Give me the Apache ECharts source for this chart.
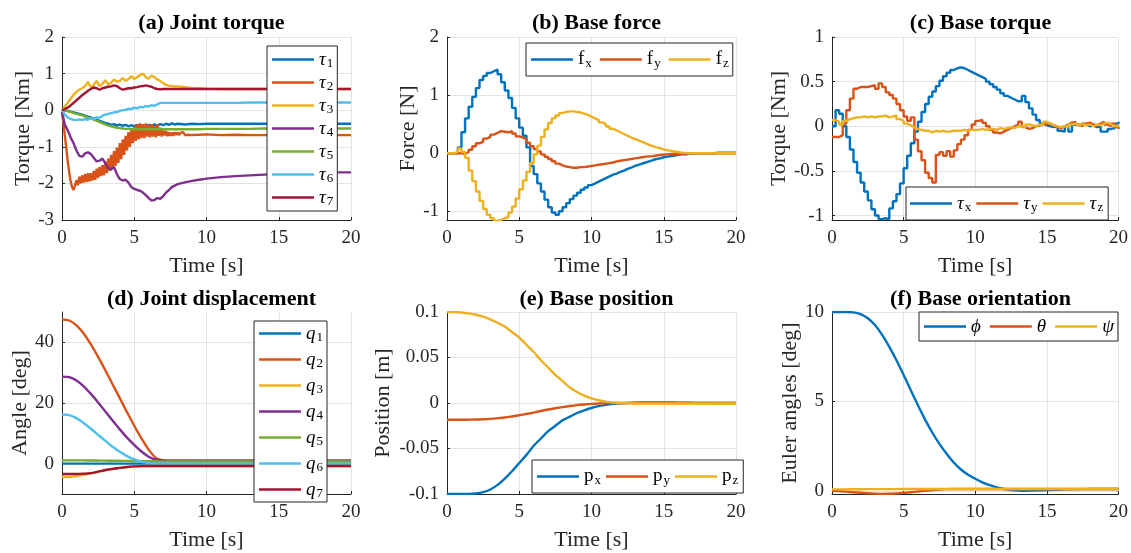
<!DOCTYPE html>
<html>
<head>
<meta charset="utf-8">
<script src="https://cdn.jsdelivr.net/npm/echarts@6/dist/echarts.min.js"></script>
<style>
  html, body { margin: 0; padding: 0; background: #fff; }
  #chart { width: 1131px; height: 553px; }
</style>
</head>
<body>
<div id="chart"></div>
<script>
// ---------- (a) Joint torque [Nm] ----------
const tA = [0,0.2,0.4,0.6,0.8,1,1.2,1.4,1.6,1.8,2,2.2,2.4,2.6,2.8,3,3.2,3.4,3.6,3.8,4,4.2,4.4,4.6,4.8,5,5.2,5.4,5.6,5.8,6,6.2,6.4,6.6,6.8,7,7.2,7.4,7.6,7.8,8,
  8.5,9,9.5,10,11,12,13,14,15,16,17,18,19,20];
const tau1 = [0,-0.01,-0.02,-0.04,-0.06,-0.08,-0.1,-0.12,-0.15,-0.18,-0.2,-0.23,-0.26,-0.29,-0.32,-0.35,-0.37,-0.4,-0.38,-0.42,-0.39,-0.43,-0.4,-0.44,-0.41,-0.44,-0.4,-0.43,-0.41,-0.44,-0.4,-0.42,-0.39,-0.42,-0.38,-0.41,-0.37,-0.4,-0.36,-0.39,-0.37,
  -0.39,-0.37,-0.38,-0.37,-0.37,-0.37,-0.37,-0.37,-0.37,-0.37,-0.37,-0.37,-0.37,-0.37];
const tau3 = [0,0.1,0.2,0.32,0.42,0.5,0.56,0.6,0.66,0.77,0.62,0.7,0.8,0.66,0.72,0.82,0.7,0.75,0.84,0.78,0.8,0.88,0.8,0.85,0.93,0.85,0.9,0.96,1.0,0.9,0.86,0.95,0.9,0.84,0.8,0.74,0.69,0.67,0.66,0.65,0.65,
  0.63,0.61,0.6,0.59,0.58,0.58,0.58,0.58,0.58,0.58,0.58,0.58,0.58,0.58];
const tau4 = [-0.05,-0.4,-0.55,-0.75,-0.9,-1.1,-1.25,-1.27,-1.18,-1.15,-1.2,-1.3,-1.4,-1.38,-1.32,-1.45,-1.58,-1.62,-1.55,-1.75,-1.88,-1.92,-1.9,-1.98,-2.1,-2.15,-2.18,-2.2,-2.25,-2.32,-2.4,-2.47,-2.45,-2.4,-2.42,-2.35,-2.25,-2.18,-2.1,-2.06,-2.02,
  -1.97,-1.93,-1.9,-1.87,-1.83,-1.8,-1.78,-1.76,-1.75,-1.74,-1.72,-1.71,-1.7,-1.7];
const tau5 = [0,-0.01,-0.03,-0.05,-0.08,-0.1,-0.12,-0.14,-0.17,-0.2,-0.23,-0.26,-0.29,-0.32,-0.36,-0.39,-0.42,-0.44,-0.46,-0.48,-0.49,-0.5,-0.51,-0.51,-0.52,
  -0.52,-0.52,-0.52,-0.52,-0.52,-0.52,-0.52,-0.52,-0.52,-0.52,-0.52,-0.52,-0.52,-0.52,-0.52,-0.52,
  -0.52,-0.52,-0.52,-0.51,-0.51,-0.51,-0.51,-0.5,-0.5,-0.5,-0.5,-0.5,-0.5,-0.5];
const tau6 = [0,-0.12,-0.2,-0.24,-0.26,-0.27,-0.25,-0.27,-0.24,-0.26,-0.22,-0.24,-0.19,-0.21,-0.15,-0.12,-0.1,-0.08,-0.06,-0.05,-0.02,0,0.01,0.04,0.03,0.07,0.05,0.09,0.08,0.11,0.1,0.14,0.12,0.16,0.2,0.2,0.2,0.2,0.2,0.2,0.2,
  0.2,0.2,0.2,0.2,0.2,0.2,0.21,0.21,0.21,0.21,0.21,0.21,0.21,0.21];
const tau7 = [0,0.03,0.07,0.13,0.2,0.27,0.34,0.41,0.47,0.53,0.58,0.62,0.6,0.56,0.6,0.62,0.64,0.65,0.68,0.66,0.6,0.56,0.58,0.6,0.6,0.62,0.63,0.65,0.66,0.68,0.66,0.64,0.6,0.58,0.57,0.58,0.58,0.58,0.58,0.58,0.58,
  0.58,0.58,0.58,0.58,0.58,0.58,0.58,0.58,0.58,0.58,0.58,0.58,0.58,0.58];
// joint 2 is sampled more finely (it is the noisiest signal)
const tA2 = [0,0.1,0.2,0.3,0.4,0.5,0.6,0.7,0.8,0.9,1,1.1,1.2,1.3,1.4,1.5,1.6,1.7,1.8,1.9,2,2.1,2.2,2.3,2.4,2.5,2.6,2.7,2.8,2.9,
  3,3.1,3.2,3.3,3.4,3.5,3.6,3.7,3.8,3.9,4,4.1,4.2,4.3,4.4,4.5,4.6,4.7,4.8,4.9,5,5.1,5.2,5.3,5.4,5.5,5.6,5.7,5.8,5.9,
  6,6.1,6.2,6.3,6.4,6.5,6.6,6.7,6.8,6.9,7,7.1,7.2,7.3,7.4,7.5,7.6,7.7,7.8,7.9,8,8.1,8.2,8.3,8.4,8.5,8.6,8.7,8.8,8.9,9,
  9.5,10,11,12,13,14,15,16,17,18,19,20];
const tau2 = [-0.05,-0.35,-0.7,-1.05,-1.4,-1.7,-1.95,-2.1,-2.18,-2.05,
  -1.92,-2.05,-1.82,-2.0,-1.78,-1.98,-1.74,-1.96,-1.72,-1.95,
  -1.72,-1.92,-1.66,-1.9,-1.6,-1.85,-1.55,-1.8,-1.5,-1.78,
  -1.4,-1.72,-1.32,-1.66,-1.22,-1.6,-1.12,-1.52,-1.02,-1.44,
  -0.9,-1.34,-0.8,-1.22,-0.7,-1.1,-0.6,-1.0,-0.52,-0.9,
  -0.44,-0.84,-0.38,-0.8,-0.36,-0.76,-0.38,-0.76,-0.36,-0.72,
  -0.4,-0.74,-0.38,-0.72,-0.42,-0.74,-0.38,-0.7,-0.48,-0.72,
  -0.55,-0.69,-0.57,-0.71,-0.6,-0.7,-0.61,-0.7,-0.6,-0.68,
  -0.6,-0.68,-0.62,-0.67,-0.6,-0.68,-0.63,-0.67,-0.62,-0.68,
  -0.64,
  -0.67,-0.66,-0.68,-0.67,-0.68,-0.68,-0.68,-0.68,-0.68,-0.68,-0.68,-0.68];

// ---------- (b) Base force [N] and (c) Base torque [Nm], held samples ----------
const tBC = [0,0.25,0.5,0.75,1,1.25,1.5,1.75,2,2.25,2.5,2.75,3,3.25,3.5,3.75,4,4.25,4.5,4.75,5,5.25,5.5,5.75,6,6.25,6.5,6.75,7,7.25,7.5,7.75,
  8,8.25,8.5,8.75,9,9.25,9.5,9.75,10,10.25,10.5,10.75,11,11.25,11.5,11.75,12,12.25,12.5,12.75,13,13.25,13.5,13.75,14,14.25,14.5,14.75,
  15,15.25,15.5,15.75,16,16.25,16.5,16.75,17,17.25,17.5,17.75,18,18.25,18.5,18.75,19,19.25,19.5,19.75,20];
const fx = [0,0,0,0.1,0.36,0.6,0.8,0.97,1.12,1.26,1.33,1.38,1.41,1.44,1.36,1.22,1.08,0.95,0.78,0.6,0.44,0.3,0.1,-0.22,-0.36,-0.52,-0.66,-0.8,-0.93,-1.02,-1.06,-1.0,
  -0.93,-0.86,-0.79,-0.73,-0.68,-0.63,-0.59,-0.55,-0.52,-0.49,-0.46,-0.43,-0.4,-0.37,-0.35,-0.32,-0.3,-0.27,-0.25,-0.22,-0.2,-0.18,-0.16,-0.14,-0.12,-0.1,-0.09,-0.07,
  -0.06,-0.05,-0.04,-0.03,-0.02,-0.02,-0.01,-0.01,0,0,0,0,0,0,0.01,0.01,0.01,0.01,0.01,0.01,0.01];
const fy = [0,0,0,0,-0.01,0.02,0.06,0.12,0.17,0.2,0.25,0.28,0.32,0.35,0.38,0.37,0.36,0.38,0.34,0.29,0.27,0.24,0.18,0.12,0.07,0.03,-0.02,-0.06,-0.1,-0.14,-0.18,-0.21,
  -0.23,-0.24,-0.25,-0.25,-0.24,-0.24,-0.23,-0.22,-0.21,-0.2,-0.19,-0.18,-0.17,-0.16,-0.14,-0.13,-0.12,-0.11,-0.1,-0.09,-0.08,-0.07,-0.06,-0.055,-0.05,-0.04,-0.03,-0.025,
  -0.02,-0.015,-0.01,-0.01,-0.01,-0.005,0,0,0,0,0,0,0,0,0,0,0,0,0,0,0];
const fz = [0,0,0.02,0.08,0.02,-0.08,-0.3,-0.48,-0.66,-0.82,-0.96,-1.06,-1.12,-1.16,-1.15,-1.12,-1.1,-1.02,-0.92,-0.78,-0.62,-0.47,-0.32,-0.17,-0.02,0.13,0.28,0.41,0.52,0.6,0.65,0.69,
  0.71,0.72,0.72,0.71,0.7,0.68,0.66,0.63,0.6,0.57,0.53,0.5,0.46,0.42,0.39,0.36,0.33,0.3,0.27,0.245,0.22,0.195,0.17,0.145,0.12,0.1,0.085,0.065,
  0.05,0.04,0.03,0.02,0.01,0.005,0,0,0,0,0,0,0,0,0,0,0,0,0,0,0];
const taux = [0,0.18,0.14,0,-0.12,-0.26,-0.4,-0.52,-0.63,-0.73,-0.83,-0.93,-1.0,-1.04,-1.03,-1.04,-0.92,-0.84,-0.76,-0.64,-0.47,-0.33,-0.19,-0.06,0.05,0.16,0.25,0.33,0.39,0.45,0.51,0.56,
  0.6,0.63,0.65,0.66,0.65,0.63,0.61,0.59,0.57,0.55,0.53,0.5,0.47,0.44,0.41,0.37,0.34,0.32,0.3,0.28,0.28,0.34,0.27,0.2,0.13,0.07,0.03,0.01,
  0,-0.01,0,-0.05,-0.06,0,-0.06,0.02,0.01,0.03,0.02,0,0.01,-0.01,0,-0.06,-0.06,-0.03,-0.02,0.03,0.05];
const tauy = [-0.12,-0.12,-0.1,0.03,0.18,0.31,0.42,0.44,0.44,0.44,0.45,0.46,0.42,0.48,0.44,0.38,0.35,0.31,0.25,0.18,0.11,0.06,0.1,-0.15,-0.28,-0.38,-0.52,-0.58,-0.63,-0.32,-0.29,-0.33,
  -0.28,-0.34,-0.27,-0.2,-0.15,-0.1,-0.04,0.02,0.06,0.07,0.04,0,-0.04,-0.07,-0.08,-0.06,-0.04,-0.02,0,0.02,0.05,-0.01,-0.03,-0.02,0,0.01,0.03,0.02,
  0.03,0.01,-0.01,-0.02,0,0.02,0.04,0.05,0.02,0,0.03,0.04,0.02,0.01,0.03,0.05,0.02,0,0.03,-0.01,-0.03];
const tauz = [0.07,0.05,0.02,0.06,0.08,0.09,0.1,0.1,0.11,0.1,0.11,0.1,0.11,0.11,0.12,0.1,0.11,0.12,0.08,0.06,0.03,0.01,-0.01,-0.03,-0.04,-0.05,-0.05,-0.07,-0.05,-0.06,-0.05,-0.06,
  -0.06,-0.05,-0.05,-0.05,-0.04,-0.05,-0.04,-0.04,-0.04,-0.03,-0.04,-0.03,-0.03,-0.04,-0.02,-0.03,-0.02,-0.01,-0.02,0,0,-0.01,0.02,0.01,0,0.02,0.01,0.05,
  0.03,0.01,0,-0.01,0,-0.01,0.02,0.03,0.01,0.03,0.01,0.02,0,0.02,0.01,0.03,0.04,0.02,0,0.01,-0.01];

// ---------- (d) Joint displacement [deg] ----------
const tD = [0,0.5,1,1.5,2,2.5,3,3.5,4,4.5,5,5.5,6,6.5,7,7.5,8,9,10,11,12,13,14,15,16,17,18,19,20];
const q1 = [0,0,0,0,0,0,0,0,0,0,0,0,0,0,0,0,0,0,0,0,0,0,0,0,0,0,0,0,0];
const q2 = [47.5,47.2,45.6,42.9,39.3,35.2,30.8,26.2,21.6,17.0,12.5,8.3,4.6,1.9,1.1,1.0,1.0,1,1,1,1,1,1,1,1,1,1,1,1];
const q3 = [-4.4,-4.4,-4.1,-3.7,-3.2,-2.7,-2.2,-1.8,-1.4,-1.1,-0.9,-0.8,-0.75,-0.75,-0.75,-0.75,-0.75,-0.75,-0.75,-0.75,-0.75,-0.75,-0.75,-0.75,-0.75,-0.75,-0.75,-0.75,-0.75];
const q4 = [28.7,28.5,27.4,25.5,23.0,20.2,17.2,14.2,11.3,8.6,6.2,4.0,2.3,1.3,1.1,1.0,1.0,1,1,1,1,1,1,1,1,1,1,1,1];
const q5 = [1.1,1.1,1.1,1.08,1.05,1.02,1.0,0.97,0.95,0.92,0.88,0.85,0.8,0.78,0.76,0.75,0.75,0.74,0.73,0.72,0.72,0.72,0.72,0.72,0.72,0.72,0.72,0.72,0.72];
const q6 = [16.2,16.0,15.0,13.4,11.5,9.5,7.5,5.6,3.9,2.5,1.4,0.6,0.2,0,0,0,0,0,0,0,0,0,0,0,0,0,0,0,0];
const q7 = [-3.4,-3.4,-3.4,-3.3,-3.1,-2.6,-2.1,-1.7,-1.4,-1.1,-0.9,-0.8,-0.75,-0.75,-0.75,-0.75,-0.75,-0.75,-0.75,-0.75,-0.75,-0.75,-0.75,-0.75,-0.75,-0.75,-0.75,-0.75,-0.75];

// ---------- (e) Base position [m] ----------
const tE = [0,0.5,1,1.5,2,2.5,3,3.5,4,4.5,5,5.5,6,6.5,7,7.5,8,8.5,9,9.5,10,10.5,11,11.5,12,12.5,13,13.5,14,15,16,17,18,19,20];
const px = [-0.1,-0.1,-0.1,-0.1,-0.0995,-0.098,-0.095,-0.09,-0.083,-0.075,-0.066,-0.057,-0.047,-0.039,-0.031,-0.025,-0.019,-0.015,-0.011,-0.008,-0.0055,-0.0035,-0.002,-0.001,-0.0003,0.0001,0.0004,0.0005,0.0006,0.0006,0.0004,0.0002,0.0001,0,0];
const py = [-0.0184,-0.0184,-0.0184,-0.0183,-0.0182,-0.0179,-0.0175,-0.0168,-0.016,-0.0148,-0.0135,-0.012,-0.0105,-0.0088,-0.0072,-0.0058,-0.0045,-0.0033,-0.0023,-0.0016,-0.001,-0.0006,-0.0003,-0.0001,0,0,0,0,0,0,0,0,0,0,0];
const pz = [0.1,0.1,0.0995,0.0985,0.097,0.095,0.092,0.088,0.084,0.078,0.072,0.064,0.056,0.047,0.039,0.031,0.024,0.017,0.012,0.008,0.005,0.003,0.0015,0.0005,0,-0.0003,-0.0005,-0.0005,-0.0005,-0.0005,-0.0005,-0.0005,-0.0005,-0.0005,-0.0005];

// ---------- (f) Base orientation [deg] ----------
const tF = [0,0.5,1,1.5,2,2.5,3,3.5,4,4.5,5,5.5,6,6.5,7,7.5,8,8.5,9,9.5,10,10.5,11,11.5,12,12.5,13,13.5,14,14.5,15,15.5,16,16.5,17,17.5,18,18.5,19,19.5,20];
const phi = [10,10,10,9.98,9.88,9.65,9.27,8.72,8.05,7.3,6.48,5.62,4.78,3.98,3.26,2.62,2.07,1.58,1.19,0.9,0.67,0.47,0.31,0.19,0.1,0.04,0.01,0,0.01,0.02,0.04,0.05,0.07,0.08,0.09,0.09,0.1,0.1,0.1,0.1,0.1];
const theta = [0,-0.02,-0.05,-0.08,-0.11,-0.14,-0.16,-0.175,-0.17,-0.15,-0.12,-0.08,-0.04,0,0.04,0.07,0.09,0.1,0.1,0.1,0.1,0.1,0.1,0.1,0.1,0.1,0.1,0.1,0.1,0.1,0.1,0.1,0.1,0.1,0.1,0.1,0.1,0.1,0.1,0.1,0.1];
const psi = [0.08,0.08,0.08,0.085,0.085,0.09,0.09,0.09,0.095,0.095,0.1,0.1,0.1,0.1,0.1,0.1,0.1,0.1,0.1,0.1,0.1,0.1,0.1,0.1,0.1,0.1,0.1,0.1,0.1,0.1,0.1,0.1,0.1,0.1,0.1,0.1,0.1,0.1,0.1,0.1,0.1];

// ---------- text ----------
const titles = ['(a) Joint torque', '(b) Base force', '(c) Base torque', '(d) Joint displacement', '(e) Base position', '(f) Base orientation'];
const yNames = ['Torque [Nm]', 'Force [N]', 'Torque [Nm]', 'Angle [deg]', 'Position [m]', 'Euler angles [deg]'];
const xName = 'Time [s]';

// ---------- styling ----------
const C = ['#0072BD', '#D95319', '#EDB120', '#7E2F8E', '#77AC30', '#4DBEEE', '#A2142F'];
const SERIF = '"Liberation Serif", "DejaVu Serif", serif';
const AX = '#262626';
const GRIDC = '#e3e3e3';
const LW = 2.4;

// plot rectangles
const grids = [
  { left: 62,  top: 37,  width: 289, height: 183 },
  { left: 447, top: 37,  width: 289, height: 183 },
  { left: 832, top: 37,  width: 287, height: 183 },
  { left: 62,  top: 312, width: 289, height: 182 },
  { left: 447, top: 312, width: 289, height: 182 },
  { left: 832, top: 312, width: 287, height: 182 }
];

// y-axis ranges (limits are tight where the data sets them)
const yCfg = [
  { min: -3, max: 2, interval: 1, minLabel: true, maxLabel: true, gap: 28 },
  { min: -1.15, max: 2, splitNumber: 3, minLabel: false, maxLabel: true, gap: 28 },
  { min: -1.05, max: 1, splitNumber: 4, minLabel: false, maxLabel: true, gap: 41 },
  { min: -10, max: 50, splitNumber: 3, minLabel: false, maxLabel: false, maxLine: false, gap: 30 },
  { min: -0.1, max: 0.1, interval: 0.05, minLabel: true, maxLabel: true, gap: 53 },
  { min: -0.18, max: 10, splitNumber: 2, minLabel: false, maxLabel: true, gap: 31 }
];

function pairs(t, v) {
  const n = Math.min(t.length, v.length);
  const out = [];
  for (let i = 0; i < n; i++) out.push([t[i], v[i]]);
  return out;
}

function line(k, name, t, v, color, extra) {
  return Object.assign({
    type: 'line', name: name, xAxisIndex: k, yAxisIndex: k,
    data: pairs(t, v), symbol: 'none', showSymbol: false, clip: true,
    lineStyle: { width: LW, color: color }, itemStyle: { color: color },
    emphasis: { disabled: true }, animation: false
  }, extra || {});
}

const series = [
  line(0, 'τ1', tA, tau1, C[0]),
  line(0, 'τ2', tA2, tau2, C[1]),
  line(0, 'τ3', tA, tau3, C[2]),
  line(0, 'τ4', tA, tau4, C[3]),
  line(0, 'τ5', tA, tau5, C[4]),
  line(0, 'τ6', tA, tau6, C[5]),
  line(0, 'τ7', tA, tau7, C[6]),
  line(1, 'fx', tBC, fx, C[0], { step: 'end' }),
  line(1, 'fy', tBC, fy, C[1], { step: 'end' }),
  line(1, 'fz', tBC, fz, C[2], { step: 'end' }),
  line(2, 'τx', tBC, taux, C[0], { step: 'end' }),
  line(2, 'τy', tBC, tauy, C[1], { step: 'end' }),
  line(2, 'τz', tBC, tauz, C[2], { step: 'end' }),
  line(3, 'q1', tD, q1, C[0], { smooth: 0.3 }),
  line(3, 'q2', tD, q2, C[1], { smooth: 0.3 }),
  line(3, 'q3', tD, q3, C[2], { smooth: 0.3 }),
  line(3, 'q4', tD, q4, C[3], { smooth: 0.3 }),
  line(3, 'q5', tD, q5, C[4], { smooth: 0.3 }),
  line(3, 'q6', tD, q6, C[5], { smooth: 0.3 }),
  line(3, 'q7', tD, q7, C[6], { smooth: 0.3 }),
  line(4, 'px', tE, px, C[0], { smooth: 0.3 }),
  line(4, 'py', tE, py, C[1], { smooth: 0.3 }),
  line(4, 'pz', tE, pz, C[2], { smooth: 0.3 }),
  line(5, 'ϕ', tF, phi, C[0], { smooth: 0.3 }),
  line(5, 'θ', tF, theta, C[1], { smooth: 0.3 }),
  line(5, 'ψ', tF, psi, C[2], { smooth: 0.3 })
];

// legend labels as rich text: italic symbol with an upright subscript
const LEG = {
  'τ1': '{m|τ}{s|1}', 'τ2': '{m|τ}{s|2}', 'τ3': '{m|τ}{s|3}', 'τ4': '{m|τ}{s|4}',
  'τ5': '{m|τ}{s|5}', 'τ6': '{m|τ}{s|6}', 'τ7': '{m|τ}{s|7}',
  'fx': '{u|f}{s|x}', 'fy': '{u|f}{s|y}', 'fz': '{u|f}{s|z}',
  'τx': '{m|τ}{s|x}', 'τy': '{m|τ}{s|y}', 'τz': '{m|τ}{s|z}',
  'q1': '{m|q}{s|1}', 'q2': '{m|q}{s|2}', 'q3': '{m|q}{s|3}', 'q4': '{m|q}{s|4}',
  'q5': '{m|q}{s|5}', 'q6': '{m|q}{s|6}', 'q7': '{m|q}{s|7}',
  'px': '{u|p}{s|x}', 'py': '{u|p}{s|y}', 'pz': '{u|p}{s|z}',
  'ϕ': '{m|ϕ}', 'θ': '{m|θ}', 'ψ': '{m|ψ}'
};
const RICH = {
  m: { fontFamily: SERIF, fontStyle: 'italic', fontSize: 19, lineHeight: 20, color: '#000' },
  u: { fontFamily: SERIF, fontSize: 19, lineHeight: 20, color: '#000' },
  s: { fontFamily: SERIF, fontSize: 13, lineHeight: 13, padding: [8, 0, 0, 1], color: '#000' }
};

function legend(names, left, top, orient, gap, padding) {
  return {
    data: names, orient: orient, left: left, top: top,
    icon: 'rect', itemWidth: 42, itemHeight: LW, itemGap: gap,
    padding: padding, borderColor: AX, borderWidth: 1, backgroundColor: '#fff',
    selectedMode: false, formatter: function (n) { return LEG[n]; },
    textStyle: { fontFamily: SERIF, color: '#000', rich: RICH }
  };
}

const legends = [
  legend(['τ1','τ2','τ3','τ4','τ5','τ6','τ7'], 267, 46, 'vertical', 2, [3, 4, 3, 5]),
  legend(['fx','fy','fz'], 526, 43, 'horizontal', 8, [6, 4, 6, 5]),
  legend(['τx','τy','τz'], 906, 187, 'horizontal', 5, [6, 5, 6, 4]),
  legend(['q1','q2','q3','q4','q5','q6','q7'], 254, 321, 'vertical', 5, [2, 4, 2, 5]),
  legend(['px','py','pz'], 532, 460, 'horizontal', 5, [6, 5, 6, 5]),
  legend(['ϕ','θ','ψ'], 919, 312, 'horizontal', 9, [5, 4, 5, 5])
];

const titleOpts = titles.map(function (txt, k) {
  const g = grids[k];
  return {
    text: txt, left: g.left + g.width / 2, top: k < 3 ? 7 : 283, textAlign: 'center',
    textStyle: { fontFamily: SERIF, fontWeight: 'bold', fontSize: 22, color: '#000' }
  };
});

const xAxes = grids.map(function (g, k) {
  return {
    gridIndex: k, type: 'value', min: 0, max: 20, interval: 5,
    name: xName, nameLocation: 'middle', nameGap: 35,
    nameTextStyle: { fontFamily: SERIF, fontSize: 22, color: AX },
    axisLine: { show: true, onZero: false, lineStyle: { color: AX, width: 1 } },
    axisTick: { show: true, inside: true, length: 3, lineStyle: { color: AX } },
    axisLabel: { fontFamily: SERIF, fontSize: 19, color: AX, margin: 9 },
    splitLine: { show: true, showMinLine: false, lineStyle: { color: GRIDC, width: 1 } }
  };
});

const yAxes = yCfg.map(function (c, k) {
  const ax = {
    gridIndex: k, type: 'value', min: c.min, max: c.max,
    name: yNames[k], nameLocation: 'middle', nameGap: c.gap,
    nameTextStyle: { fontFamily: SERIF, fontSize: 22, color: AX },
    axisLine: { show: true, onZero: false, lineStyle: { color: AX, width: 1 } },
    axisTick: { show: true, inside: true, length: 3, lineStyle: { color: AX } },
    axisLabel: { fontFamily: SERIF, fontSize: 19, color: AX, margin: 8,
                 showMinLabel: c.minLabel, showMaxLabel: c.maxLabel },
    splitLine: { show: true, showMinLine: false, showMaxLine: c.maxLine !== false,
                 lineStyle: { color: GRIDC, width: 1 } }
  };
  if (c.interval !== undefined) ax.interval = c.interval;
  if (c.splitNumber !== undefined) ax.splitNumber = c.splitNumber;
  return ax;
});

const chart = echarts.init(document.getElementById('chart'), null, { renderer: 'canvas' });
chart.setOption({
  animation: false,
  backgroundColor: '#fff',
  title: titleOpts,
  grid: grids,
  xAxis: xAxes,
  yAxis: yAxes,
  legend: legends,
  series: series
});
</script>
</body>
</html>
